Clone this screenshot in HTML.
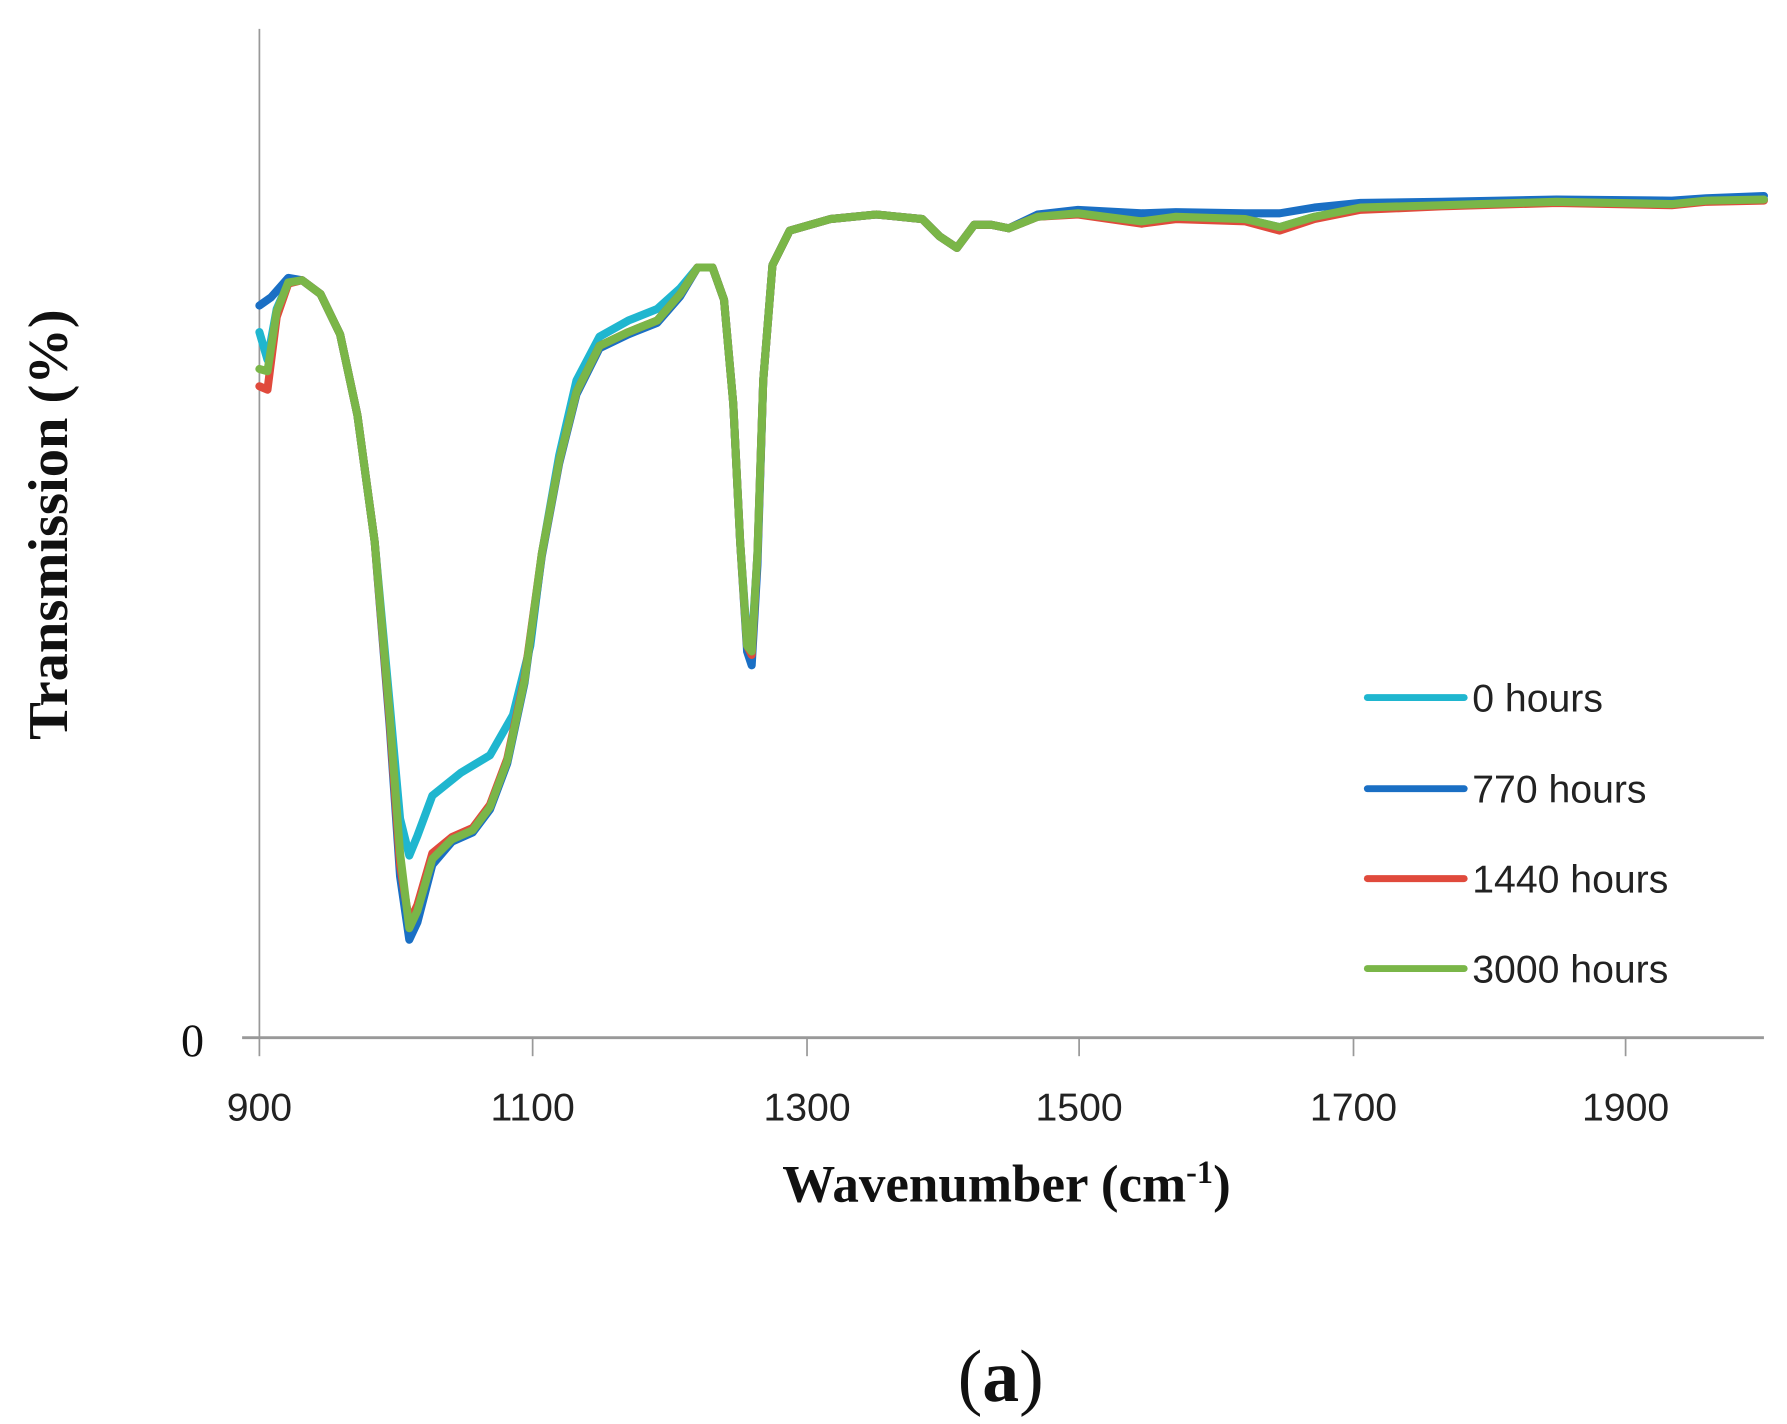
<!DOCTYPE html>
<html><head><meta charset="utf-8"><style>html,body{margin:0;padding:0;background:#fff}svg{display:block}</style></head>
<body>
<svg width="1787" height="1424" viewBox="0 0 1550 1235" preserveAspectRatio="none" xmlns="http://www.w3.org/2000/svg">
<rect width="1550" height="1235" fill="#fff"/>
<line x1="225" y1="25" x2="225" y2="900" stroke="#999" stroke-width="1.5"/>
<line x1="210" y1="900" x2="1530" y2="900" stroke="#999" stroke-width="2.5"/>
<g stroke="#999" stroke-width="1.5">
<line x1="225" y1="900" x2="225" y2="916"/><line x1="462" y1="900" x2="462" y2="916"/><line x1="700" y1="900" x2="700" y2="916"/><line x1="936" y1="900" x2="936" y2="916"/><line x1="1174" y1="900" x2="1174" y2="916"/><line x1="1410" y1="900" x2="1410" y2="916"/>
</g>
<g font-family="Liberation Sans, sans-serif" font-size="34" fill="#222" text-anchor="middle">
<text x="225" y="972">900</text><text x="462" y="972">1100</text><text x="700" y="972">1300</text><text x="936" y="972">1500</text><text x="1174" y="972">1700</text><text x="1410" y="972">1900</text>
</g>
<text x="167" y="916" font-family="Liberation Serif, serif" font-size="40" text-anchor="middle" fill="#111">0</text>
<text transform="translate(58,455) rotate(-90)" font-family="Liberation Serif, serif" font-weight="bold" font-size="49" text-anchor="middle" fill="#111">Transmission (%)</text>
<text x="873" y="1042" font-family="Liberation Serif, serif" font-weight="bold" font-size="46" text-anchor="middle" fill="#111">Wavenumber (cm<tspan font-size="28" dy="-16">-1</tspan><tspan dy="16">)</tspan></text>
<text x="868" y="1215" font-family="Liberation Serif, serif" font-size="64" text-anchor="middle" fill="#111">(<tspan font-weight="bold">a</tspan>)</text>
<g fill="none" stroke-width="7" stroke-linejoin="round" stroke-linecap="round">
<polyline stroke="#1fb6cf" points="225,288 232,312 240,268 250,245 262,243 278,255 295,290 310,360 325,470 338,610 347,710 355,742 362,725 375,690 400,670 425,655 445,620 460,560 470,480 485,395 500,330 520,292 545,278 570,268 590,250 605,232 618,232 628,260 636,350 642,470 648,555 652,560 657,480 662,330 670,230 685,200 720,190 760,186 800,190 815,205 830,215 845,195 860,195 875,198 900,188 935,185 990,192 1020,188 1080,190 1110,197 1140,188 1180,180 1250,178 1350,175 1450,177 1480,174 1530,173"/>
<polyline stroke="#1a6fc4" points="225,265 235,258 250,241 262,243 278,255 295,290 310,360 325,470 338,630 347,760 355,815 362,800 375,750 392,730 410,722 425,702 440,662 455,592 470,482 485,402 500,342 520,302 545,290 570,280 590,257 605,232 618,232 628,260 636,350 642,470 648,565 652,577 657,490 662,330 670,230 685,200 720,190 760,186 800,190 815,205 830,215 845,195 860,195 875,198 900,186 935,182 990,185 1020,184 1080,185 1110,185 1140,180 1180,176 1250,175 1350,173 1450,174 1480,172 1530,170"/>
<polyline stroke="#e04a3c" points="225,335 232,338 240,275 250,246 262,243 278,255 295,290 310,360 325,470 338,625 347,750 355,800 362,785 375,740 392,726 410,718 425,698 440,658 455,588 470,480 485,400 500,340 520,300 545,288 570,278 590,255 605,232 618,232 628,260 636,350 642,470 648,560 652,568 657,480 662,330 670,230 685,200 720,190 760,186 800,190 815,205 830,215 845,195 860,195 875,198 900,188 935,186 990,194 1020,190 1080,192 1110,200 1140,190 1180,182 1250,179 1350,176 1450,178 1480,175 1530,174"/>
<polyline stroke="#7ab648" points="225,320 232,322 240,270 250,245 262,243 278,255 295,290 310,360 325,470 338,620 347,740 355,805 362,790 375,745 392,728 410,720 425,700 440,660 455,590 470,480 485,400 500,340 520,300 545,288 570,278 590,255 605,232 618,232 628,260 636,350 642,470 648,560 652,565 657,480 662,330 670,230 685,200 720,190 760,186 800,190 815,205 830,215 845,195 860,195 875,198 900,188 935,185 990,192 1020,188 1080,190 1110,197 1140,188 1180,180 1250,178 1350,175 1450,177 1480,174 1530,173"/>
</g>
<g stroke-width="6" stroke-linecap="round">
<line x1="1186" y1="605" x2="1270" y2="605" stroke="#1fb6cf"/>
<line x1="1186" y1="684" x2="1270" y2="684" stroke="#1a6fc4"/>
<line x1="1186" y1="762" x2="1270" y2="762" stroke="#e04a3c"/>
<line x1="1186" y1="840" x2="1270" y2="840" stroke="#7ab648"/>
</g>
<g font-family="Liberation Sans, sans-serif" font-size="34" fill="#222">
<text x="1277" y="617">0 hours</text><text x="1277" y="696">770 hours</text><text x="1277" y="774">1440 hours</text><text x="1277" y="852">3000 hours</text>
</g>
</svg>
</body></html>
